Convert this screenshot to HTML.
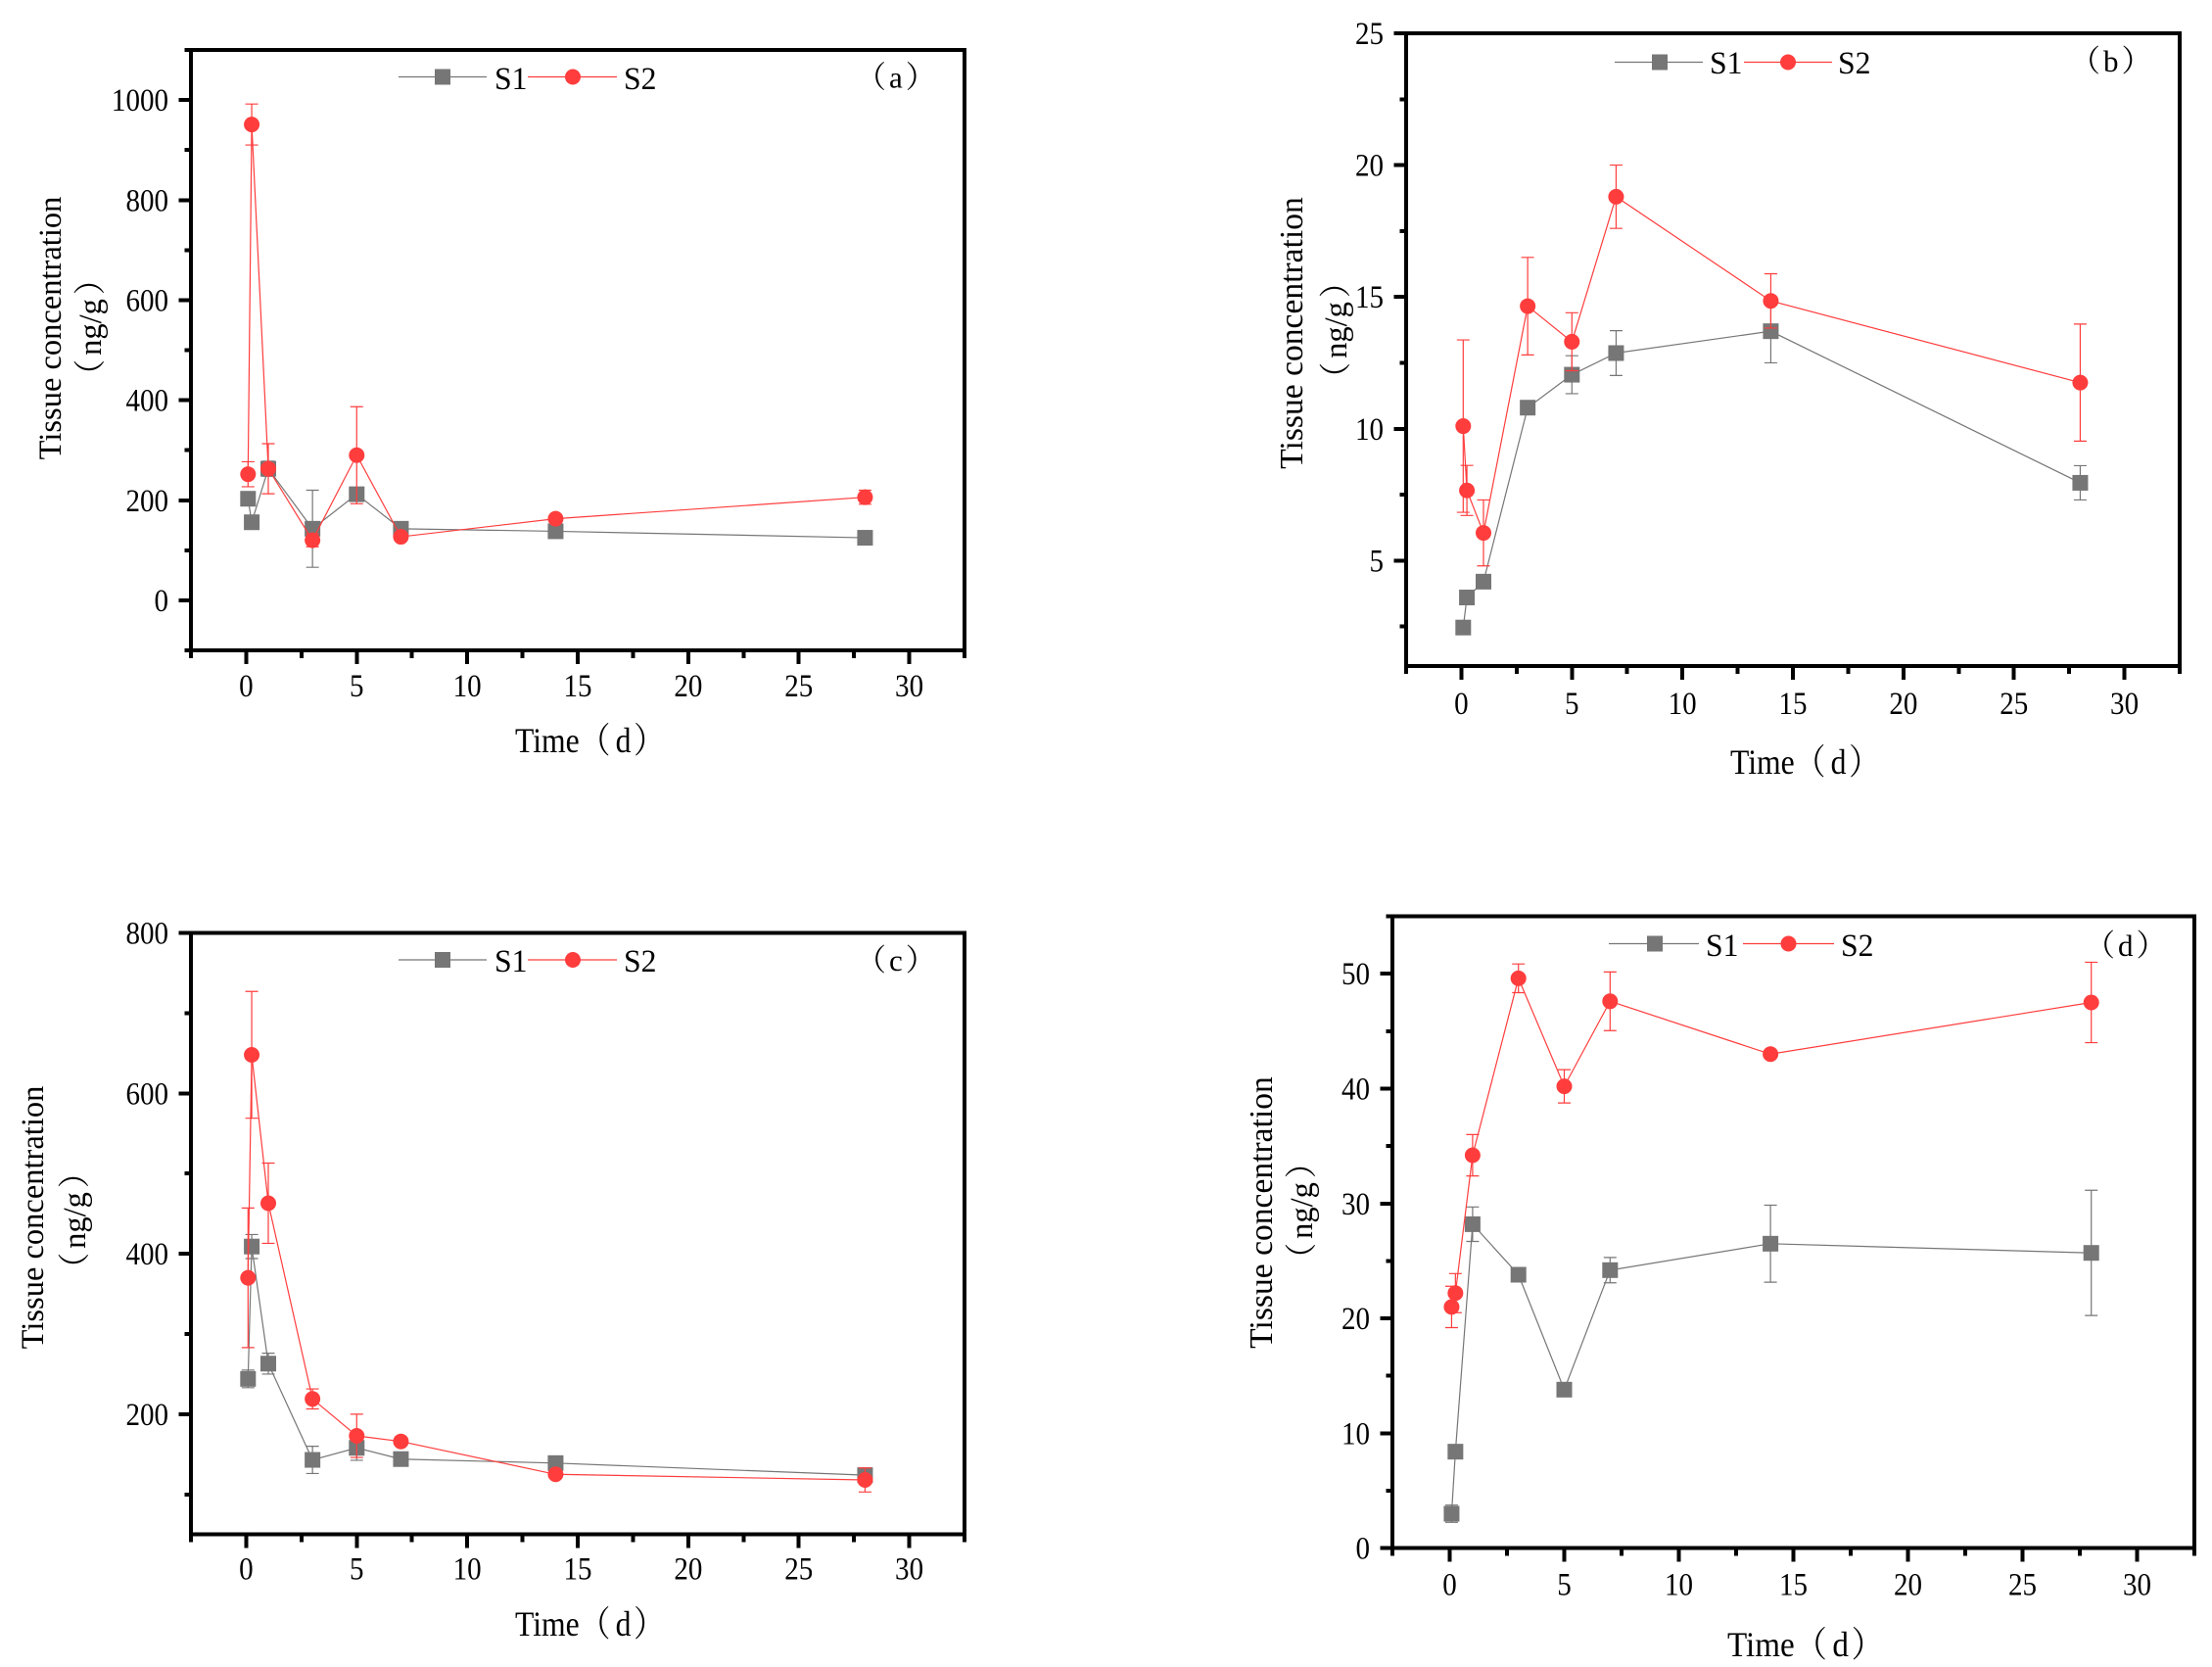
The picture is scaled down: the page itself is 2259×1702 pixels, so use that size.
<!DOCTYPE html>
<html lang="en">
<head>
<meta charset="utf-8">
<title>Tissue concentration over time</title>
<style>
  html, body { margin: 0; padding: 0; background: #ffffff; }
  svg { display: block; }
  text { font-family: "Liberation Serif", "Noto Serif CJK SC", serif; fill: #000000; }
  .tick-label { font-size: 33px; }
  .axis-title { font-size: 36px; }
  .y-title { font-size: 32.5px; }
  .y-title-large { font-size: 33.6px; }
  .legend-label { font-size: 33px; }
  .panel-label { font-size: 31px; }
</style>
</head>
<body>
<svg id="figure" xmlns="http://www.w3.org/2000/svg" width="2259" height="1702" viewBox="0 0 2259 1702">
  <rect x="0" y="0" width="2259" height="1702" fill="#ffffff"/>

  <g id="panel-a">
    <text class="axis-title" transform="translate(526,768) scale(.88,1)">Time（<tspan dx="6">d</tspan><tspan dx="3">）</tspan></text>
    <text class="y-title" text-anchor="middle" transform="translate(62,335) rotate(-90)">Tissue concentration</text>
    <text class="y-title" text-anchor="middle" transform="translate(103,334) rotate(-90)">（<tspan dx="4">ng/g</tspan><tspan dx="4">）</tspan></text>
    <g>
      <line x1="407" x2="497" y1="78.5" y2="78.5" stroke="#767676" stroke-width="1.2"/>
      <rect x="444" y="70.5" width="16" height="16" fill="#767676"/>
      <text class="legend-label" transform="translate(505,91) scale(.96,1)">S1</text>
      <line x1="539" x2="630" y1="78.5" y2="78.5" stroke="#ff3d3d" stroke-width="1.2"/>
      <circle cx="585" cy="78.5" r="8" fill="#ff3d3d"/>
      <text class="legend-label" transform="translate(637,91) scale(.96,1)">S2</text>
    </g>
    <text class="panel-label" transform="translate(874,89.5)">（<tspan dx="3">a</tspan><tspan dx="3">）</tspan></text>
  </g>

  <g id="panel-b">
    <text class="axis-title" transform="translate(1767,790) scale(.88,1)">Time（<tspan dx="6">d</tspan><tspan dx="3">）</tspan></text>
    <text class="y-title-large" text-anchor="middle" transform="translate(1330,340) rotate(-90)">Tissue concentration</text>
    <text class="y-title" text-anchor="middle" transform="translate(1375,337) rotate(-90)">（<tspan dx="4">ng/g</tspan><tspan dx="4">）</tspan></text>
    <g>
      <line x1="1649" x2="1739" y1="63.5" y2="63.5" stroke="#767676" stroke-width="1.2"/>
      <rect x="1687" y="55.5" width="16" height="16" fill="#767676"/>
      <text class="legend-label" transform="translate(1746,75) scale(.96,1)">S1</text>
      <line x1="1781" x2="1871" y1="63.5" y2="63.5" stroke="#ff3d3d" stroke-width="1.2"/>
      <circle cx="1826" cy="63.5" r="8" fill="#ff3d3d"/>
      <text class="legend-label" transform="translate(1877,75) scale(.96,1)">S2</text>
    </g>
    <text class="panel-label" transform="translate(2114,73)">（<tspan dx="3">b</tspan><tspan dx="3">）</tspan></text>
  </g>

  <g id="panel-c">
    <text class="axis-title" transform="translate(526,1670) scale(.88,1)">Time（<tspan dx="6">d</tspan><tspan dx="3">）</tspan></text>
    <text class="y-title" text-anchor="middle" transform="translate(44,1243) rotate(-90)">Tissue concentration</text>
    <text class="y-title" text-anchor="middle" transform="translate(87,1246) rotate(-90)">（<tspan dx="4">ng/g</tspan><tspan dx="4">）</tspan></text>
    <g>
      <line x1="407" x2="497" y1="980" y2="980" stroke="#767676" stroke-width="1.2"/>
      <rect x="444" y="972" width="16" height="16" fill="#767676"/>
      <text class="legend-label" transform="translate(505,992) scale(.96,1)">S1</text>
      <line x1="539" x2="630" y1="980" y2="980" stroke="#ff3d3d" stroke-width="1.2"/>
      <circle cx="585" cy="980" r="8" fill="#ff3d3d"/>
      <text class="legend-label" transform="translate(637,992) scale(.96,1)">S2</text>
    </g>
    <text class="panel-label" transform="translate(874,991)">（<tspan dx="3">c</tspan><tspan dx="3">）</tspan></text>
  </g>

  <g id="panel-d">
    <text class="axis-title" transform="translate(1764,1691) scale(.92,1)">Time（<tspan dx="6">d</tspan><tspan dx="3">）</tspan></text>
    <text class="y-title-large" text-anchor="middle" transform="translate(1299,1238) rotate(-90)">Tissue concentration</text>
    <text class="y-title" text-anchor="middle" transform="translate(1340,1236) rotate(-90)">（<tspan dx="4">ng/g</tspan><tspan dx="4">）</tspan></text>
    <g>
      <line x1="1643" x2="1735" y1="963.5" y2="963.5" stroke="#767676" stroke-width="1.2"/>
      <rect x="1682" y="955.5" width="16" height="16" fill="#767676"/>
      <text class="legend-label" transform="translate(1742,976) scale(.96,1)">S1</text>
      <line x1="1780" x2="1873" y1="963.5" y2="963.5" stroke="#ff3d3d" stroke-width="1.2"/>
      <circle cx="1826.5" cy="963.5" r="8" fill="#ff3d3d"/>
      <text class="legend-label" transform="translate(1880,976) scale(.96,1)">S2</text>
    </g>
    <text class="panel-label" transform="translate(2129,976)">（<tspan dx="3">d</tspan><tspan dx="3">）</tspan></text>
  </g>
</svg>

<script>
// Shared categories and x-axis ticks
const timeDays = [0.083, 0.25, 1, 3, 5, 7, 14, 28];
const xTickLabels = [0, 5, 10, 15, 20, 25, 30];
const xMinorTicks = [-2.5, 2.5, 7.5, 12.5, 17.5, 22.5, 27.5, 32.5];

// Panel (a)
const aS1Values = [203, 156, 263, 143, 212, 143, 138, 125];
const aS1Errors = [0, 0, 15, 77, 8, 0, 0, 0];
const aS2Values = [252, 951, 263, 120, 290, 127, 163, 206];
const aS2Errors = [25, 41, 50, 13, 97, 0, 0, 14];
const aYTicks = [0, 200, 400, 600, 800, 1000];
const aYMinorTicks = [-100, 100, 300, 500, 700, 900, 1100];

// Panel (b)
const bS1Values = [2.46, 3.6, 4.2, 10.8, 12.05, 12.87, 13.7, 7.95];
const bS1Errors = [0, 0, 0, 0, 0.72, 0.85, 1.2, 0.65];
const bS2Values = [10.1, 7.66, 6.05, 14.65, 13.3, 18.8, 14.85, 11.75];
const bS2Errors = [3.27, 0.95, 1.25, 1.85, 1.1, 1.2, 1.03, 2.22];
const bYTicks = [5, 10, 15, 20, 25];
const bYMinorTicks = [2.5, 7.5, 12.5, 17.5, 22.5];

// Panel (c)
const cS1Values = [244, 409, 263, 143, 158, 144, 139, 124];
const cS1Errors = [11, 15, 13, 17, 15.5, 0, 0, 0];
const cS2Values = [370, 648, 463, 219, 173, 166, 125, 118];
const cS2Errors = [87, 79, 50, 12.5, 27, 0, 0, 15];
const cYTicks = [200, 400, 600, 800];
const cYMinorTicks = [100, 300, 500, 700];

// Panel (d)
const dS1Values = [3.0, 8.4, 28.2, 23.8, 13.8, 24.2, 26.5, 25.7];
const dS1Errors = [0.75, 0, 1.5, 0, 0, 1.1, 3.35, 5.45];
const dS2Values = [21.0, 22.2, 34.2, 49.6, 40.2, 47.6, 43.0, 47.5];
const dS2Errors = [1.8, 1.7, 1.8, 1.25, 1.45, 2.55, 0, 3.5];
const dYTicks = [0, 10, 20, 30, 40, 50];
const dYMinorTicks = [5, 15, 25, 35, 45, 55];

const SVG_NS = 'http://www.w3.org/2000/svg';
const GREY = '#767676';
const RED = '#ff3d3d';
const X_MIN = -2.5;
const X_MAX = 32.5;

function make(parent, tag, name, attrs) {
  const el = document.createElementNS(SVG_NS, tag);
  
  
  for (const key in attrs) el.setAttribute(key, attrs[key]);
  parent.appendChild(el);
  return el;
}

function drawSeries(group, key, values, errors, color, isSquare, sx, sy) {
  const seriesGroup = make(group, 'g', 'series-' + key, {});
  const points = timeDays.map(function (t, i) { return sx(t) + ',' + sy(values[i]); }).join(' ');

  function drawErrors() {
    timeDays.forEach(function (t, i) {
      if (!errors[i]) return;
      const x = sx(t);
      const hi = sy(values[i] + errors[i]);
      const lo = sy(values[i] - errors[i]);
      const d = 'M' + x + ' ' + hi + 'V' + lo + 'M' + (x - 6.5) + ' ' + hi + 'H' + (x + 6.5) + 'M' + (x - 6.5) + ' ' + lo + 'H' + (x + 6.5);
      make(seriesGroup, 'path', 'error-bar-' + key + '-t' + t, { d: d, stroke: color, 'stroke-width': 1.2, fill: 'none' });
    });
  }

  if (isSquare) drawErrors();
  make(seriesGroup, 'polyline', 'line-' + key, { points: points, fill: 'none', stroke: color, 'stroke-width': 1.2 });
  timeDays.forEach(function (t, i) {
    const x = sx(t);
    const y = sy(values[i]);
    if (isSquare) {
      make(seriesGroup, 'rect', 'point-' + key + '-t' + t, { x: x - 8, y: y - 8, width: 16, height: 16, fill: color });
    } else {
      make(seriesGroup, 'circle', 'point-' + key + '-t' + t, { cx: x, cy: y, r: 8, fill: color });
    }
  });
  if (!isSquare) drawErrors();
}

function drawPanel(id, frame, yMin, yMax, yTicks, yMinorTicks, s1Values, s1Errors, s2Values, s2Errors) {
  const panel = document.getElementById(id);
  const sx = function (v) { return frame.left + (v - X_MIN) / (X_MAX - X_MIN) * (frame.right - frame.left); };
  const sy = function (v) { return frame.bottom - (v - yMin) / (yMax - yMin) * (frame.bottom - frame.top); };

  const plot = make(panel, 'g', 'plot-area', {});
  drawSeries(plot, 's1', s1Values, s1Errors, GREY, true, sx, sy);
  drawSeries(plot, 's2', s2Values, s2Errors, RED, false, sx, sy);

  const axes = make(panel, 'g', 'axes', { 'shape-rendering': 'crispEdges' });
  make(axes, 'rect', 'axes-frame', {
    x: frame.left, y: frame.top,
    width: frame.right - frame.left, height: frame.bottom - frame.top,
    fill: 'none', stroke: '#000000', 'stroke-width': 4
  });

  xTickLabels.forEach(function (v) {
    make(axes, 'line', 'x-tick-' + v, { x1: sx(v), x2: sx(v), y1: frame.bottom, y2: frame.bottom + 14, stroke: '#000', 'stroke-width': 4 });
    const label = make(panel, 'text', 'x-tick-label-' + v, {
      class: 'tick-label', 'text-anchor': 'middle',
      transform: 'translate(' + sx(v) + ',' + (frame.bottom + frame.xLabelOffset) + ') scale(.88,1)'
    });
    label.textContent = String(v);
  });
  xMinorTicks.forEach(function (v) {
    make(axes, 'line', 'x-minor-tick-' + v, { x1: sx(v), x2: sx(v), y1: frame.bottom, y2: frame.bottom + 8, stroke: '#000', 'stroke-width': 4 });
  });

  yTicks.forEach(function (v) {
    make(axes, 'line', 'y-tick-' + v, { x1: frame.left - 12.5, x2: frame.left, y1: sy(v), y2: sy(v), stroke: '#000', 'stroke-width': 4 });
    const label = make(panel, 'text', 'y-tick-label-' + v, {
      class: 'tick-label', 'text-anchor': 'end',
      transform: 'translate(' + (frame.left - 23) + ',' + (sy(v) + 11) + ') scale(.88,1)'
    });
    label.textContent = String(v);
  });
  yMinorTicks.forEach(function (v) {
    make(axes, 'line', 'y-minor-tick-' + v, { x1: frame.left - 6.5, x2: frame.left, y1: sy(v), y2: sy(v), stroke: '#000', 'stroke-width': 4 });
  });
}

drawPanel('panel-a', { left: 195, right: 985, top: 51, bottom: 664, xLabelOffset: 47 }, -100, 1100, aYTicks, aYMinorTicks, aS1Values, aS1Errors, aS2Values, aS2Errors);
drawPanel('panel-b', { left: 1436, right: 2226, top: 34, bottom: 680, xLabelOffset: 49 }, 1, 25, bYTicks, bYMinorTicks, bS1Values, bS1Errors, bS2Values, bS2Errors);
drawPanel('panel-c', { left: 195, right: 985, top: 952.5, bottom: 1566.7, xLabelOffset: 46 }, 50, 800, cYTicks, cYMinorTicks, cS1Values, cS1Errors, cS2Values, cS2Errors);
drawPanel('panel-d', { left: 1422, right: 2241, top: 935.5, bottom: 1580.7, xLabelOffset: 48 }, 0, 55, dYTicks, dYMinorTicks, dS1Values, dS1Errors, dS2Values, dS2Errors);
</script>
</body>
</html>
